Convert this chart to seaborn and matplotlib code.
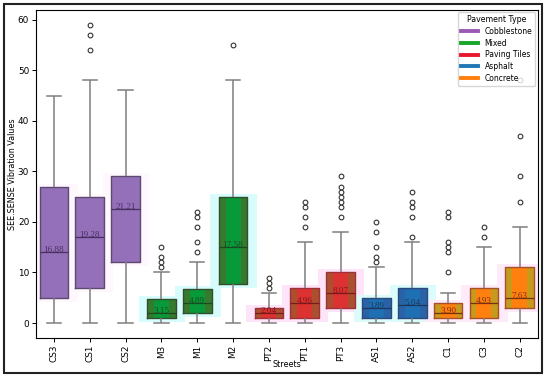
import pandas as pd
import matplotlib
matplotlib.use('Agg')
import matplotlib.pyplot as plt
import seaborn as sns
from matplotlib.lines import Line2D
from matplotlib.patches import Rectangle

# street summary values
streets = ['CS3', 'CS1', 'CS2', 'M3', 'M1', 'M2', 'PT2', 'PT1', 'PT3',
           'AS1', 'AS2', 'C1', 'C3', 'C2']
pavement = ['Cobblestone'] * 3 + ['Mixed'] * 3 + ['Paving Tiles'] * 3 + \
           ['Asphalt'] * 2 + ['Concrete'] * 3
whis_low = [0, 0, 0, 0, 0, 0, 0, 0, 0, 0, 0, 0, 0, 0]
q1 = [5, 7, 12, 1, 2, 7.75, 1, 1, 3, 1, 1, 1, 1, 3]
median = [14, 17, 22.5, 2, 4, 15, 2, 4, 6, 3, 3.5, 2, 4, 5]
q3 = [27, 25, 29, 4.75, 6.75, 25, 3, 7, 10, 5, 7, 4, 7, 11]
whis_high = [45, 48, 46, 10, 12, 48, 6, 16, 18, 11, 16, 6, 15, 19]
means = [16.88, 19.28, 21.21, 3.15, 4.89, 17.58, 2.04, 4.96, 8.07,
         3.89, 5.04, 3.90, 4.93, 7.63]

# outliers per street
outliers = {
    'CS1': [54, 57, 59],
    'M3': [11, 12, 13, 15],
    'M1': [14, 16, 19, 21, 22],
    'M2': [55],
    'PT2': [7, 8, 9],
    'PT1': [19, 21, 23, 24],
    'PT3': [21, 23, 24, 25, 26, 27, 29],
    'AS1': [12, 13, 15, 18, 20],
    'AS2': [17, 21, 23, 24, 26],
    'C1': [10, 14, 15, 16, 21, 22],
    'C3': [17, 19],
    'C2': [24, 29, 37, 48],
}

types = ['Cobblestone', 'Mixed', 'Paving Tiles', 'Asphalt', 'Concrete']
legend_colors = ['#9b59b6', '#17a52a', '#e8192c', '#1f77b4', '#ff7f0e']
outer_colors = {'Cobblestone': '#9370b7', 'Mixed': '#377a2e', 'Paving Tiles': '#a9512f',
                'Asphalt': '#2a62a8', 'Concrete': '#c59a1d'}
inner_colors = {'Cobblestone': '#9470ba', 'Mixed': '#08993a', 'Paving Tiles': '#dc3232',
                'Asphalt': '#1f6fb3', 'Concrete': '#ff800f'}
edge_colors = {'Cobblestone': '#5d4a70', 'Mixed': '#2f4f2f', 'Paving Tiles': '#a0303a',
               'Asphalt': '#2d4a7a', 'Concrete': '#a8502a'}
median_colors = {'Cobblestone': '#4a3060', 'Mixed': '#1a4a1f', 'Paving Tiles': '#7a1a1a',
                 'Asphalt': '#1d3558', 'Concrete': '#7a2e12'}
glow_colors = {'Cobblestone': '#fef7fd', 'Mixed': '#d8fcfc', 'Paving Tiles': '#fde4f9',
               'Asphalt': '#dcfcfc', 'Concrete': '#feebfa'}

# long table: five summary values per street
rows = []
for i, s in enumerate(streets):
    for v in [whis_low[i], q1[i], median[i], q3[i], whis_high[i]]:
        rows.append({'Street': s, 'Value': v, 'Type': pavement[i]})
df = pd.DataFrame(rows)

fl_street = [s for s in streets for v in outliers.get(s, [])]
fl_value = [v for s in streets for v in outliers.get(s, [])]

plt.rcParams['font.family'] = ['DejaVu Sans']
fig = plt.figure(figsize=(5.5, 3.78), dpi=100)
ax = fig.add_axes([0.0655, 0.106, 0.912, 0.868])

hidden = {'visible': False}

# soft glow behind the boxes
for t in types:
    sub = df[df['Type'] == t]
    sns.boxplot(data=sub, x='Street', y='Value', order=streets, color=glow_colors[t],
                saturation=1, width=1.1, linewidth=5, linecolor=glow_colors[t],
                showfliers=False, showcaps=False, whiskerprops=hidden,
                medianprops=hidden, ax=ax)

# outer box fill
for t in types:
    sub = df[df['Type'] == t]
    sns.boxplot(data=sub, x='Street', y='Value', order=streets, color=outer_colors[t],
                saturation=1, width=0.8, linewidth=0, showfliers=False, showcaps=False,
                whiskerprops=hidden, medianprops=hidden, ax=ax)

# inner box fill
for t in types:
    sub = df[df['Type'] == t]
    sns.boxplot(data=sub, x='Street', y='Value', order=streets, color=inner_colors[t],
                saturation=1, width=0.42, linewidth=0, showfliers=False, showcaps=False,
                whiskerprops=hidden, medianprops=hidden, ax=ax)

# box outlines, whiskers, caps, medians
for t in types:
    sub = df[df['Type'] == t]
    sns.boxplot(data=sub, x='Street', y='Value', order=streets, fill=False,
                color=edge_colors[t], width=0.8, linewidth=1.0,
                linecolor=edge_colors[t], showfliers=False,
                boxprops={'color': edge_colors[t]},
                whiskerprops={'color': '#7f7f7f', 'linewidth': 1.1},
                capprops={'color': '#7f7f7f', 'linewidth': 1.1},
                medianprops={'color': median_colors[t], 'linewidth': 0.9}, ax=ax)

sns.stripplot(x=fl_street, y=fl_value, order=streets, jitter=False, color='white',
              edgecolor='#333333', linewidth=0.8, size=3.4, ax=ax, zorder=4)

# mean labels at the median line
for i, s in enumerate(streets):
    ax.text(i, median[i], f'{means[i]:.2f}', ha='center', va='baseline',
            fontsize=6.6, family='Liberation Serif', color=median_colors[pavement[i]],
            zorder=5)

ax.set_xlabel('Streets', fontsize=5.8)
ax.set_ylabel('SEE.SENSE Vibration Values', fontsize=5.8)
ax.xaxis.set_label_coords(0.5, -0.066)
ax.yaxis.set_label_coords(-0.038, 0.5)
ax.tick_params(axis='both', labelsize=6.4, length=3, width=0.7, pad=2)
ax.tick_params(axis='x', labelrotation=90)
ax.set_yticks([0, 10, 20, 30, 40, 50, 60])
ax.set_xlim(-0.5, len(streets) - 0.5)
ax.set_ylim(-2.95, 61.95)

handles = [Line2D([0], [0], color=c, lw=2.8) for c in legend_colors]
leg = ax.legend(handles, types, title='Pavement Type', loc='upper right',
                fontsize=5.5, title_fontsize=5.7, handlelength=2.3,
                borderaxespad=0.3, labelspacing=0.35)

fig.add_artist(Rectangle((4 / 550, 5 / 378), 538 / 550, 369 / 378, fill=False,
                         edgecolor='#222222', linewidth=1.5, transform=fig.transFigure))

plt.savefig('out.png', dpi=100)
plt.close()
